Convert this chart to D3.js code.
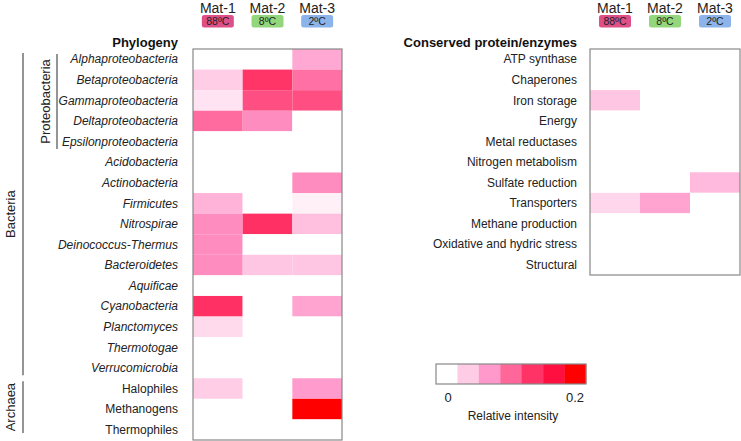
<!DOCTYPE html>
<html><head><meta charset="utf-8">
<script src="https://cdn.jsdelivr.net/npm/d3@7"></script>
<style>body{margin:0;background:#fff}svg{display:block;font-family:"Liberation Sans",Arial,sans-serif}</style>
</head><body><svg id="c" width="741" height="441"></svg>
<script>
const mats = ["Mat-1","Mat-2","Mat-3"];
const matTemps = ["88ºC","8ºC","2ºC"];
const matColors = ["#de4f88","#93d67c","#8db4ea"];

const taxa = ["Alphaproteobacteria","Betaproteobacteria","Gammaproteobacteria","Deltaproteobacteria","Epsilonproteobacteria","Acidobacteria","Actinobacteria","Firmicutes","Nitrospirae","Deinococcus-Thermus","Bacteroidetes","Aquificae","Cyanobacteria","Planctomyces","Thermotogae","Verrucomicrobia","Halophiles","Methanogens","Thermophiles"];
const taxaItalic = [true,true,true,true,true,true,true,true,true,true,true,true,true,true,true,true,false,false,false];
const phyloMat1 = [0,0.033,0.018,0.097,0,0,0,0.05,0.075,0.075,0.075,0,0.135,0.025,0,0,0.033,0,0];
const phyloMat2 = [0,0.132,0.115,0.075,0,0,0,0,0.135,0,0.037,0,0,0,0,0,0,0,0];
const phyloMat3 = [0.057,0.093,0.115,0,0,0,0.075,0.01,0.042,0,0.037,0,0.06,0,0,0,0.065,0.2,0];

const proteins = ["ATP synthase","Chaperones","Iron storage","Energy","Metal reductases","Nitrogen metabolism","Sulfate reduction","Transporters","Methane production","Oxidative and hydric stress","Structural"];
const protMat1 = [0,0,0.037,0,0,0,0,0.027,0,0,0];
const protMat2 = [0,0,0,0,0,0,0,0.06,0,0,0];
const protMat3 = [0,0,0,0,0,0,0.045,0,0,0,0];

const legendColors = ["#ffffff","#ffcce6","#ff99cc","#ff6699","#ff3366","#ff0f3f","#ff0000"];
const legendTicks = ["0","0.2"];

const svg = d3.select("#c");
const color = d3.scaleLinear()
  .domain(legendColors.map((c,i)=>i*0.2/(legendColors.length-1)))
  .range(legendColors).clamp(true);

const stroke = "#7a7a7a";

function heatmap(rows, cols, x0, x1, y0, y1) {
  const x = d3.scaleBand().domain(mats).range([x0,x1]);
  const y = d3.scaleBand().domain(rows).range([y0,y1]);
  const cells = [];
  rows.forEach((r,i)=>cols.forEach((c,j)=>cells.push({r, m:mats[j], v:c[i]})));
  svg.append("g").selectAll("rect").data(cells).join("rect")
    .attr("x",d=>x(d.m)).attr("y",d=>y(d.r))
    .attr("width",x.bandwidth()).attr("height",y.bandwidth())
    .attr("fill",d=>color(d.v));
  svg.append("rect").attr("x",x0).attr("y",y0).attr("width",x1-x0).attr("height",y1-y0)
    .attr("fill","none").attr("stroke","#888").attr("stroke-width",1.2);
  // headers
  const h = svg.append("g");
  mats.forEach((m,j)=>{
    const cx = x(m)+x.bandwidth()/2;
    h.append("text").attr("x",cx).attr("y",13).attr("text-anchor","middle")
      .attr("font-size",14).attr("fill","#222").text(m);
    h.append("rect").attr("x",cx-16).attr("y",15).attr("width",32).attr("height",12.5)
      .attr("rx",2.5).attr("fill",matColors[j]);
    h.append("text").attr("x",cx).attr("y",25).attr("text-anchor","middle")
      .attr("font-size",10.5).attr("fill","#222").text(matTemps[j]);
  });
  return {x,y};
}

// Left heatmap
const L = heatmap(taxa,[phyloMat1,phyloMat2,phyloMat3],193,342,49,440);
svg.append("text").attr("x",178).attr("y",47).attr("text-anchor","end")
  .attr("font-size",13).attr("font-weight","bold").attr("fill","#111").text("Phylogeny");
svg.append("g").selectAll("text").data(taxa).join("text")
  .attr("x",178).attr("y",d=>L.y(d)+L.y.bandwidth()/2+4.2).attr("text-anchor","end")
  .attr("font-size",12).attr("font-style",(d,i)=>taxaItalic[i]?"italic":"normal")
  .attr("fill","#222").text(d=>d);

// group brackets
function bracket(x, yA, yB, label, lx) {
  svg.append("line").attr("x1",x).attr("x2",x).attr("y1",yA).attr("y2",yB)
    .attr("stroke",stroke).attr("stroke-width",1.6);
  svg.append("text").attr("transform",`translate(${lx},${(yA+yB)/2}) rotate(-90)`)
    .attr("text-anchor","middle").attr("font-size",13).attr("fill","#222").text(label);
}
bracket(57, L.y("Alphaproteobacteria")+5, L.y("Epsilonproteobacteria")+L.y.bandwidth()-3, "Proteobacteria", 50);
bracket(23, L.y("Alphaproteobacteria")+4, L.y("Verrucomicrobia")+L.y.bandwidth()-3, "Bacteria", 15);
bracket(23, L.y("Halophiles")+3, L.y("Thermophiles")+L.y.bandwidth()-7, "Archaea", 15);

// Right heatmap
const R = heatmap(proteins,[protMat1,protMat2,protMat3],590,740,49,275);
svg.append("text").attr("x",577).attr("y",47).attr("text-anchor","end")
  .attr("font-size",13).attr("font-weight","bold").attr("fill","#111").text("Conserved protein/enzymes");
svg.append("g").selectAll("text").data(proteins).join("text")
  .attr("x",577).attr("y",d=>R.y(d)+R.y.bandwidth()/2+4.2).attr("text-anchor","end")
  .attr("font-size",12).attr("fill","#222").text(d=>d);

// Legend
const lx = d3.scaleBand().domain(d3.range(legendColors.length)).range([436,586]);
svg.append("g").selectAll("rect").data(legendColors).join("rect")
  .attr("x",(d,i)=>lx(i)).attr("y",364).attr("width",lx.bandwidth()+0.3).attr("height",20)
  .attr("fill",d=>d);
svg.append("rect").attr("x",436).attr("y",364).attr("width",150).attr("height",20)
  .attr("fill","none").attr("stroke","#888").attr("stroke-width",1.2);
svg.append("text").attr("x",448).attr("y",402).attr("text-anchor","middle")
  .attr("font-size",13).attr("fill","#222").text(legendTicks[0]);
svg.append("text").attr("x",575).attr("y",402).attr("text-anchor","middle")
  .attr("font-size",13).attr("fill","#222").text(legendTicks[1]);
svg.append("text").attr("x",513).attr("y",420).attr("text-anchor","middle")
  .attr("font-size",12).attr("fill","#222").text("Relative intensity");
</script></body></html>
